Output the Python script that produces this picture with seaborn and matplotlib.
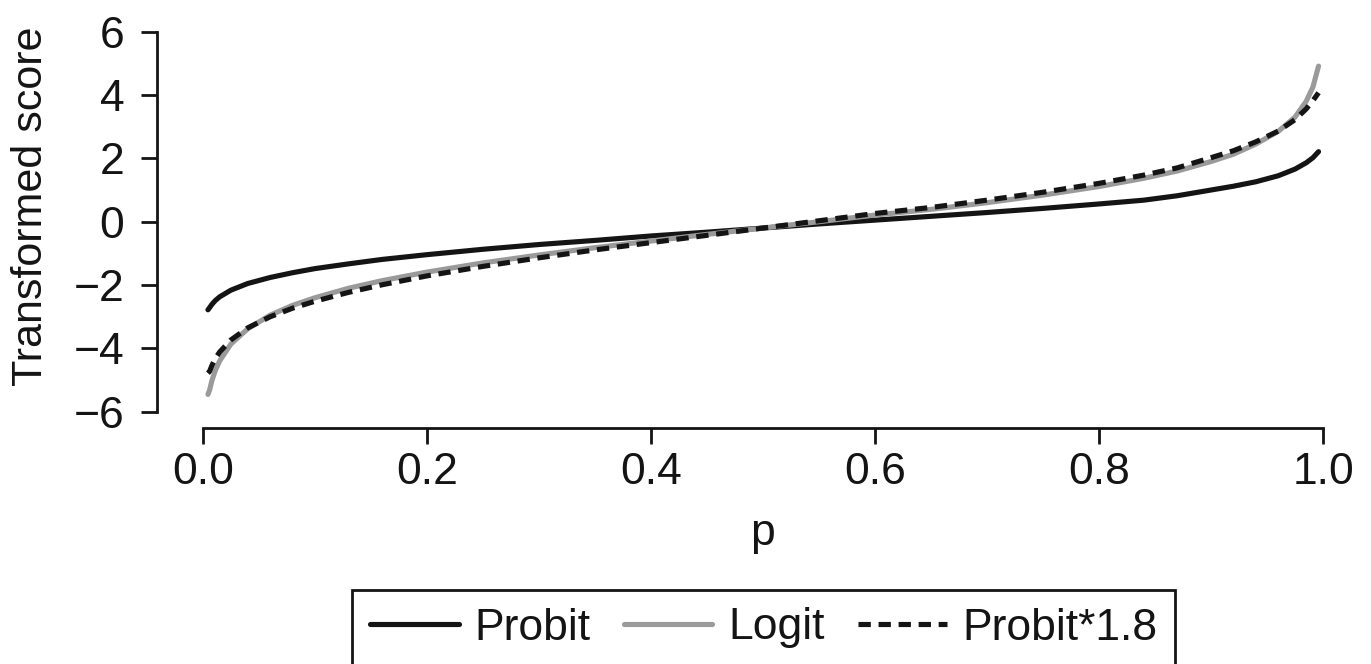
import matplotlib
matplotlib.use("Agg")
import matplotlib.pyplot as plt
import seaborn as sns
import pandas as pd

# values
p_vals = [0.0045, 0.006, 0.008, 0.011, 0.015, 0.025, 0.04, 0.06, 0.08, 0.10,
          0.13, 0.16, 0.20, 0.25, 0.30, 0.35, 0.40, 0.45, 0.50, 0.55,
          0.60, 0.65, 0.70, 0.75, 0.80, 0.84, 0.87, 0.90, 0.92, 0.94,
          0.96, 0.975, 0.985, 0.991, 0.996]
probit = [-2.78, -2.71, -2.61, -2.49, -2.37, -2.16, -1.95, -1.76, -1.61, -1.48,
          -1.33, -1.19, -1.04, -0.87, -0.72, -0.59, -0.45, -0.33, -0.20, -0.07,
          0.05, 0.17, 0.29, 0.42, 0.56, 0.68, 0.82, 1.00, 1.12, 1.26,
          1.45, 1.66, 1.86, 2.02, 2.21]
logit = [-5.45, -5.31, -5.02, -4.70, -4.39, -3.86, -3.38, -2.95, -2.64, -2.40,
         -2.10, -1.86, -1.59, -1.30, -1.05, -0.82, -0.61, -0.40, -0.20, 0.00,
         0.21, 0.39, 0.60, 0.84, 1.11, 1.37, 1.60, 1.90, 2.13, 2.45,
         2.85, 3.30, 3.80, 4.25, 4.91]
probit18 = [-4.78, -4.72, -4.54, -4.32, -4.11, -3.73, -3.35, -3.00, -2.73, -2.51,
            -2.23, -1.99, -1.71, -1.41, -1.14, -0.89, -0.66, -0.43, -0.20, 0.03,
            0.26, 0.45, 0.68, 0.93, 1.21, 1.47, 1.70, 2.02, 2.24, 2.52,
            2.86, 3.22, 3.56, 3.82, 4.07]
curve_names = ["Probit", "Logit", "Probit*1.8"]
x_ticks = [0.0, 0.2, 0.4, 0.6, 0.8, 1.0]
y_ticks = [-6, -4, -2, 0, 2, 4, 6]

df = pd.concat([
    pd.DataFrame({"p": p_vals, "score": probit, "curve": "Probit"}),
    pd.DataFrame({"p": p_vals, "score": logit, "curve": "Logit"}),
    pd.DataFrame({"p": p_vals, "score": probit18, "curve": "Probit*1.8"}),
])

sns.set_style("white")
plt.rcParams["font.family"] = ["Liberation Sans", "DejaVu Sans"]

fig = plt.figure(figsize=(13.71, 6.64), dpi=100)
ax = fig.add_axes([0.1145, 0.3554, 0.884, 0.6214])

sns.lineplot(data=df, x="p", y="score", hue="curve", style="curve",
             hue_order=curve_names, style_order=curve_names,
             palette={"Probit": "#141414", "Logit": "#9a9a9a", "Probit*1.8": "#141414"},
             dashes={"Probit": "", "Logit": "", "Probit*1.8": (2.4, 1.5)},
             linewidth=3.7, ax=ax)

handles, labels = ax.get_legend_handles_labels()
ax.get_legend().remove()

ax.set_xlim(-0.041, 1.041)
ax.set_ylim(-6.51, 6.51)
ax.set_xticks(x_ticks)
ax.set_xticklabels([f"{t:.1f}" for t in x_ticks])
ax.set_yticks(y_ticks)
ax.set_yticklabels([str(t).replace("-", "\u2212") for t in y_ticks])

for side in ["top", "right"]:
    ax.spines[side].set_visible(False)
for side in ["left", "bottom"]:
    ax.spines[side].set_linewidth(2)
    ax.spines[side].set_color("#141414")
ax.spines["left"].set_bounds(-6, 6)
ax.spines["bottom"].set_bounds(0, 1)

ax.tick_params(axis="both", direction="out", length=11.5, width=2, color="#141414",
               labelsize=32, labelcolor="#141414", left=True, bottom=True)
ax.tick_params(axis="y", pad=12)
ax.tick_params(axis="x", pad=6)

ax.set_xlabel("p", fontsize=32, color="#141414", labelpad=14)
ax.set_ylabel("Transformed score", fontsize=31, color="#141414")
ax.yaxis.set_label_coords(-0.0875, 0.537)

leg = fig.legend(handles, labels, loc="center", bbox_to_anchor=(763.5 / 1371, 1 - 628 / 664),
                 ncol=3, fontsize=32, handlelength=2.0, handletextpad=0.35,
                 columnspacing=0.75, borderpad=0.4, frameon=True, fancybox=False,
                 framealpha=1, edgecolor="#141414")
leg.get_frame().set_linewidth(2)
for t in leg.get_texts():
    t.set_color("#141414")

fig.savefig("out.png", dpi=100)
